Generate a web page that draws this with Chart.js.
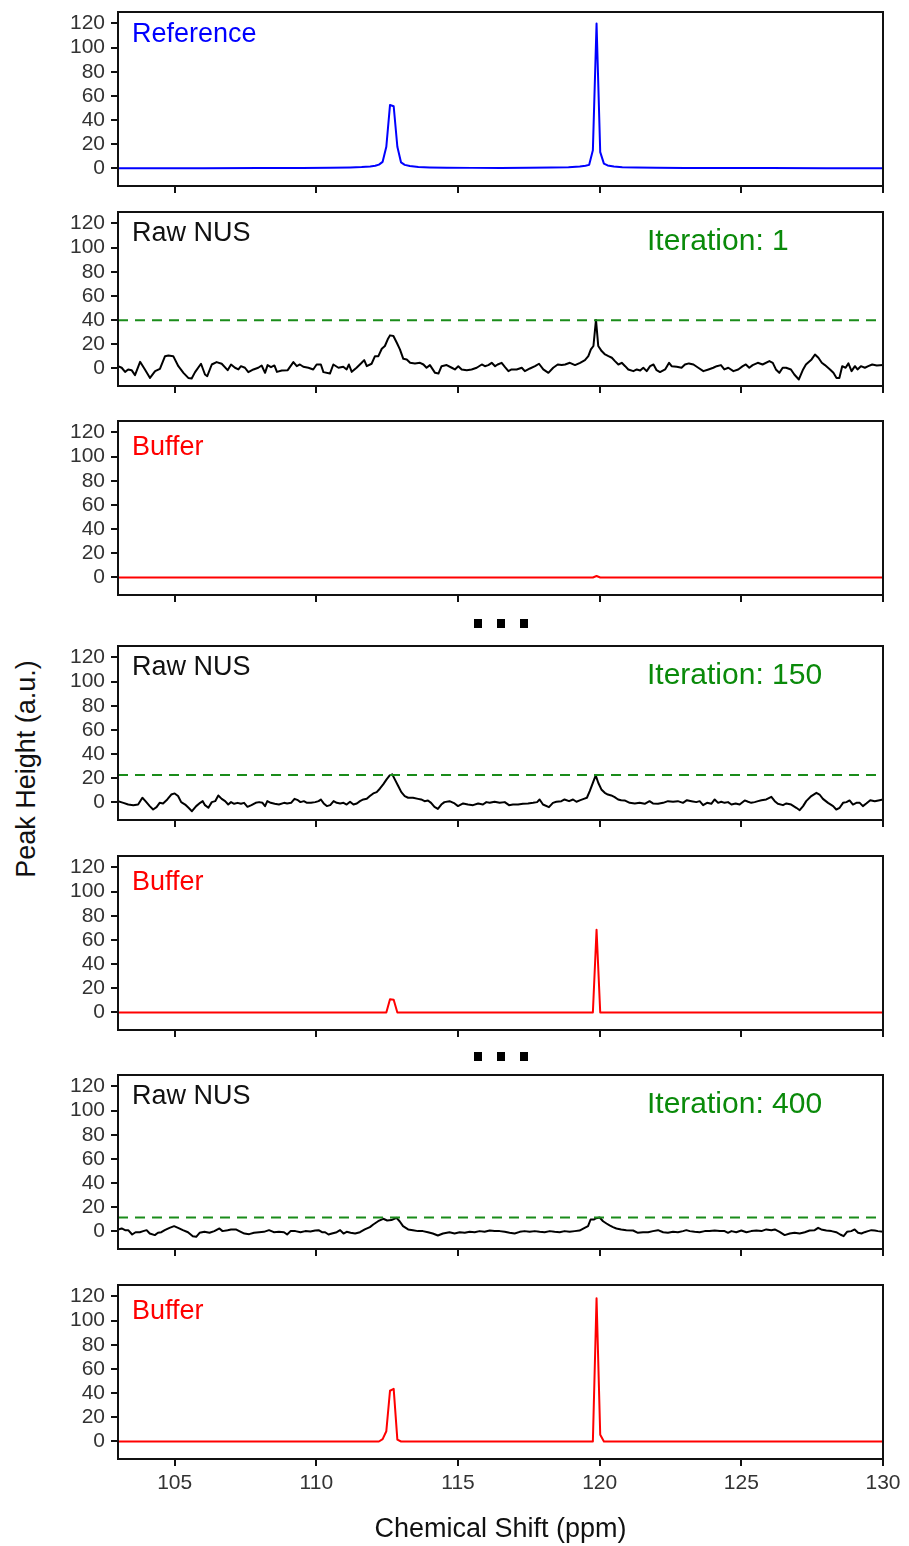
<!DOCTYPE html>
<html><head><meta charset="utf-8">
<script src="https://cdn.jsdelivr.net/npm/chart.js@4.4.0/dist/chart.umd.min.js"></script>
<style>
html,body{margin:0;padding:0;background:#fff}
body{width:909px;height:1546px;position:relative;overflow:hidden;font-family:"Liberation Sans",Arial,sans-serif}
.pane{position:absolute;left:0}
.dot{position:absolute;width:8px;height:9px;background:#000}
#ytitle{position:absolute;left:26px;top:769px;transform:translate(-50%,-50%) rotate(-90deg);font-size:27px;color:#111;white-space:nowrap}
</style></head>
<body>
<div id="ytitle">Peak Height (a.u.)</div>
<script>
// ---------- DATA ----------
const xRange = [103, 130];
const yRange = [-14.5, 129.5];
const xTicks = [105, 110, 115, 120, 125, 130];
const yTicks = [0, 20, 40, 60, 80, 100, 120];
const xTitle = 'Chemical Shift (ppm)';
const seriesNames = ['Reference', 'Raw NUS', 'Buffer'];
const iterationLabels = ['Iteration: 1', 'Iteration: 150', 'Iteration: 400'];
const thresholds = [40, 22.7, 11.6];

// [ppm, height]
const reference = [[103,0.1],[106,0.2],[108,0.3],[109.5,0.4],[110.5,0.6],[111.2,0.9],[111.6,1.2],[111.9,1.7],[112.08,2.2],[112.21,3.2],[112.34,5.5],[112.47,18],[112.6,52.5],[112.73,51.5],[112.86,18],[112.99,5],[113.12,3],[113.3,2],[113.6,1.3],[114.0,0.9],[114.6,0.6],[115.5,0.5],[116.5,0.5],[117.5,0.6],[118.3,0.8],[118.9,1.1],[119.3,1.6],[119.5,2.2],[119.63,3],[119.76,15],[119.89,120],[120.02,13.5],[120.15,4],[120.28,2.5],[120.5,1.6],[120.8,1.1],[121.3,0.8],[122,0.6],[123,0.4],[124.5,0.3],[126,0.3],[128,0.2],[130,0.2]];

const rawNus1 = [[103.0,1.9],[103.13,0.6],[103.25,-2.8],[103.36,-0.8],[103.48,-1.4],[103.6,-5.5],[103.78,5.5],[103.95,-0.8],[104.13,-7.8],[104.31,-2.2],[104.48,-0.3],[104.66,10.2],[104.78,10.8],[104.95,10.2],[105.13,1.9],[105.31,-3.6],[105.48,-7.8],[105.6,-8.3],[105.72,-3.0],[105.93,3.9],[106.07,-5.0],[106.15,-6.4],[106.31,3.3],[106.48,5.3],[106.66,3.9],[106.87,-1.4],[106.99,3.3],[107.13,0.6],[107.25,-0.8],[107.34,1.9],[107.48,0.6],[107.6,-3.0],[107.78,-0.8],[107.95,0.6],[108.07,2.5],[108.19,-3.6],[108.28,2.8],[108.4,1.1],[108.52,2.5],[108.61,-2.8],[108.78,-1.7],[108.99,-1.4],[109.19,5.3],[109.31,1.9],[109.42,3.3],[109.54,1.4],[109.72,0.6],[109.89,-0.8],[110.01,3.3],[110.16,3.3],[110.25,-3.0],[110.48,-4.2],[110.6,3.3],[110.78,0.6],[110.95,1.4],[111.07,-0.8],[111.15,3.3],[111.25,-2.8],[111.42,0.6],[111.6,4.7],[111.69,6.9],[111.78,1.9],[111.95,3.9],[112.07,10.2],[112.19,10.2],[112.31,16.3],[112.42,18.6],[112.52,24.1],[112.6,27.4],[112.72,26.9],[112.84,21.3],[112.95,15.8],[113.07,8.0],[113.19,7.5],[113.31,4.7],[113.48,4.2],[113.66,4.7],[113.78,3.3],[113.89,0.6],[114.01,2.8],[114.19,-3.6],[114.31,-4.2],[114.42,1.9],[114.6,2.8],[114.78,0.6],
[114.89,-0.8],[115.01,1.9],[115.13,-0.8],[115.31,-1.4],[115.48,-0.8],[115.66,0.6],[115.84,3.3],[115.95,1.9],[116.07,2.8],[116.19,4.7],[116.31,1.9],[116.4,3.3],[116.54,4.7],[116.66,1.1],[116.78,-2.2],[116.89,-0.8],[117.07,-0.8],[117.25,0.6],[117.36,-2.2],[117.54,0.0],[117.72,1.9],[117.86,3.9],[118.01,-0.8],[118.19,-3.6],[118.36,0.6],[118.52,3.3],[118.66,2.8],[118.78,3.3],[118.95,4.7],[119.13,2.8],[119.31,4.7],[119.48,6.9],[119.6,10.2],[119.69,15.8],[119.78,18.6],[119.87,40.2],[119.95,18.6],[120.07,14.4],[120.19,11.6],[120.31,10.2],[120.43,8.9],[120.54,6.1],[120.66,3.3],[120.78,4.7],[120.9,1.9],[121.01,-0.8],[121.19,-2.2],[121.31,-0.8],[121.43,-1.7],[121.54,0.6],[121.66,-2.2],[121.78,1.9],[121.9,3.3],[122.01,-1.4],[122.13,-3.0],[122.31,-0.8],[122.45,4.7],[122.54,1.9],[122.72,1.4],[122.89,0.6],[123.01,3.3],[123.15,4.2],[123.31,3.3],[123.48,0.6],[123.66,-2.2],[123.84,-0.8],[124.01,0.6],[124.13,1.9],[124.28,2.8],[124.4,-0.8],[124.54,0.6],[124.72,-2.2],[124.89,-0.8],[125.05,1.9],[125.16,3.3],[125.28,0.6],[125.4,2.8],[125.58,4.7],[125.75,3.3],[125.99,6.1],[126.11,4.7],[126.22,-0.8],[126.34,-3.6],[126.46,0.6],[126.58,0.6],[126.75,-0.8],[126.87,-5.0],[127.03,-9.1],[127.18,-0.8],[127.28,3.3],[127.48,7.5],[127.6,11.6],[127.72,8.9],[127.84,4.7],[127.95,2.8],[128.13,-0.8],[128.25,-3.6],[128.36,-7.8],[128.46,-7.8],[128.56,1.9],[128.68,0.6],[128.78,4.2],[128.89,-2.2],[129.01,1.9],[129.1,-0.8],[129.22,1.9],[129.36,0.6],[129.48,1.9],[129.62,3.3],[129.78,2.5],[130.0,2.8]];

const buffer1 = [[103,0],[119.76,0],[119.89,1.2],[120.02,0],[130,0]];

const rawNus150 = [[103.0,1.1],[103.19,-0.3],[103.36,-1.7],[103.54,-2.2],[103.71,-1.7],[103.86,3.9],[103.97,1.1],[104.12,-3.0],[104.24,-5.8],[104.36,-3.9],[104.47,-0.3],[104.59,-0.8],[104.74,2.5],[104.88,6.6],[105.0,7.5],[105.12,5.3],[105.23,0.3],[105.37,-1.7],[105.49,-4.4],[105.61,-7.2],[105.76,-3.0],[105.9,-0.3],[105.99,1.1],[106.07,-2.2],[106.19,-4.4],[106.31,0.3],[106.43,1.1],[106.54,5.8],[106.66,3.0],[106.78,1.1],[106.89,-1.7],[106.99,0.3],[107.1,-1.1],[107.22,-0.3],[107.34,-1.1],[107.45,-0.3],[107.57,-3.6],[107.71,-2.2],[107.86,-0.3],[107.98,0.3],[108.1,-0.3],[108.19,-3.0],[108.27,1.1],[108.39,-0.3],[108.53,-1.1],[108.68,-1.7],[108.86,-0.3],[108.97,-0.8],[109.11,-0.3],[109.23,3.0],[109.35,1.9],[109.44,0.3],[109.56,1.1],[109.67,-0.3],[109.81,-0.3],[109.96,0.3],[110.08,1.1],[110.16,2.5],[110.26,-0.8],[110.37,-3.0],[110.49,-2.2],[110.61,1.1],[110.72,-0.3],[110.84,-0.8],[110.96,-0.3],[111.07,-1.7],[111.19,0.6],[111.31,-1.7],[111.43,-0.8],[111.54,1.1],[111.66,2.5],[111.78,3.0],[111.89,5.3],[112.01,7.5],[112.13,8.6],[112.24,11.4],[112.36,15.0],[112.48,19.1],[112.59,22.4],[112.68,23.3],[112.77,19.1],[112.89,13.6],[113.0,8.6],[113.12,5.3],[113.24,3.9],[113.41,3.9],[113.59,3.0],[113.7,2.5],[113.82,1.1],[113.94,1.7],[114.05,-0.3],[114.17,-3.6],[114.29,-5.3],[114.41,-1.7],[114.52,0.3],[114.7,1.1],
[114.88,-0.8],[115.0,-3.0],[115.18,-0.8],[115.35,-1.7],[115.53,-2.2],[115.71,-0.8],[115.88,-1.7],[116.0,0.3],[116.12,-0.3],[116.29,0.6],[116.47,-0.3],[116.65,0.3],[116.8,-2.2],[116.94,-1.7],[117.12,-1.7],[117.29,-1.1],[117.47,-0.8],[117.65,-0.3],[117.79,0.3],[117.88,2.5],[118.0,-1.7],[118.21,-3.9],[118.35,-0.3],[118.47,0.6],[118.65,1.1],[118.76,2.5],[118.92,1.1],[119.06,2.5],[119.18,0.6],[119.32,1.9],[119.44,3.0],[119.55,3.9],[119.65,9.4],[119.76,16.3],[119.86,22.4],[119.95,16.3],[120.06,10.8],[120.18,8.0],[120.29,6.6],[120.41,5.8],[120.53,4.4],[120.65,2.5],[120.76,1.9],[120.88,1.7],[121.06,-0.3],[121.24,-0.8],[121.41,-0.3],[121.59,-1.1],[121.76,1.1],[121.88,-0.8],[122.06,-1.1],[122.24,-0.3],[122.41,1.1],[122.59,0.6],[122.76,1.1],[122.94,-0.3],[123.08,1.9],[123.24,1.1],[123.41,0.3],[123.53,1.1],[123.65,-2.2],[123.79,-0.3],[123.94,-1.1],[124.06,2.5],[124.18,-0.3],[124.29,0.6],[124.41,-0.3],[124.53,0.3],[124.65,-1.7],[124.8,-0.8],[124.94,-1.7],[125.12,1.7],[125.24,0.6],[125.35,-0.3],[125.47,0.3],[125.59,1.1],[125.71,1.9],[125.88,2.5],[126.06,4.7],[126.18,1.1],[126.29,-1.1],[126.47,-2.2],[126.59,-0.8],[126.76,-1.7],[126.94,-4.4],[127.06,-6.4],[127.18,-3.0],[127.29,1.1],[127.47,5.3],[127.65,8.0],[127.76,6.6],[127.88,3.0],[128.06,-0.3],[128.24,-3.0],[128.35,-5.8],[128.47,-4.4],[128.59,-0.3],[128.71,0.3],[128.82,1.7],[128.94,-1.7],[129.06,-0.3],[129.18,-0.3],[129.29,-3.0],[129.41,-0.8],[129.55,1.9],[129.71,1.1],[129.88,1.9],[130.0,2.5]];

const buffer150 = [[103,0],[112.47,0],[112.6,11],[112.73,10.5],[112.86,0],[119.76,0],[119.89,68.5],[120.02,0],[130,0]];

const rawNus400 = [[103.0,1.7],[103.13,2.5],[103.25,1.1],[103.36,1.1],[103.5,-2.5],[103.62,-0.6],[103.77,-0.6],[103.89,0.3],[104.01,1.1],[104.12,-1.7],[104.3,-3.0],[104.41,-1.1],[104.53,-0.6],[104.65,1.1],[104.82,3.0],[104.98,4.4],[105.12,3.0],[105.29,1.1],[105.47,-0.6],[105.64,-3.9],[105.76,-4.4],[105.88,-1.1],[106.05,-0.3],[106.23,-1.1],[106.4,0.3],[106.58,2.5],[106.69,0.3],[106.87,1.1],[106.99,1.7],[107.16,1.7],[107.28,0.3],[107.46,-1.7],[107.63,-2.2],[107.8,-1.1],[107.98,-0.6],[108.15,-0.3],[108.33,1.1],[108.5,-0.6],[108.68,-0.3],[108.86,-0.6],[108.97,-2.5],[109.09,0.3],[109.26,0.3],[109.44,-0.6],[109.61,0.3],[109.79,0.0],[109.96,0.8],[110.08,1.1],[110.2,-0.6],[110.31,-0.6],[110.43,-2.5],[110.55,-1.7],[110.72,-0.6],[110.84,1.1],[110.96,-1.7],[111.07,-0.3],[111.21,-1.1],[111.37,-1.7],[111.54,-0.6],[111.71,1.7],[111.89,3.6],[112.01,5.8],[112.18,8.5],[112.36,10.5],[112.5,9.1],[112.65,9.4],[112.83,11.3],[112.94,8.5],[113.06,4.4],[113.24,1.7],[113.41,1.1],[113.59,0.3],[113.76,0.3],[113.94,-0.6],[114.11,-1.7],[114.29,-3.3],[114.47,-1.7],[114.7,-0.6],
[114.88,-1.7],[115.06,-0.6],[115.24,-1.1],[115.41,-0.3],[115.59,-0.6],[115.76,0.3],[115.94,-0.3],[116.12,0.8],[116.29,0.3],[116.47,0.3],[116.65,-0.3],[116.82,-1.1],[117.0,-1.7],[117.18,-0.3],[117.35,0.3],[117.53,-0.3],[117.71,0.3],[117.88,-0.3],[118.06,-0.6],[118.24,0.3],[118.41,-0.3],[118.59,-0.6],[118.76,0.3],[118.94,-0.3],[119.12,0.3],[119.29,0.8],[119.47,3.0],[119.59,4.4],[119.68,9.9],[119.79,9.9],[119.88,11.0],[120.0,11.6],[120.12,8.5],[120.24,6.6],[120.35,5.0],[120.47,3.6],[120.59,2.5],[120.76,1.7],[120.94,1.1],[121.18,0.8],[121.35,-1.1],[121.53,-0.6],[121.71,-0.6],[121.88,0.3],[122.06,1.1],[122.24,-0.6],[122.41,-1.1],[122.59,-0.3],[122.76,-0.6],[122.94,0.3],[123.06,1.1],[123.18,0.3],[123.35,-0.3],[123.53,-0.6],[123.71,0.3],[123.88,0.3],[124.06,0.8],[124.24,0.3],[124.41,0.3],[124.53,-1.1],[124.65,0.3],[124.82,-0.6],[125.0,0.8],[125.18,-0.6],[125.35,0.3],[125.53,0.8],[125.71,0.3],[125.88,1.7],[126.06,1.1],[126.18,1.7],[126.35,-0.3],[126.53,-3.0],[126.71,-1.7],[126.88,-1.1],[127.06,-1.7],[127.24,-0.6],[127.41,0.8],[127.59,1.1],[127.71,3.0],[127.82,1.7],[128.0,0.8],[128.18,0.3],[128.35,-0.6],[128.49,-2.5],[128.61,-3.9],[128.73,-0.3],[128.88,0.3],[129.0,1.7],[129.12,-1.1],[129.24,-1.7],[129.35,-0.6],[129.47,0.3],[129.59,1.1],[129.71,0.8],[129.82,0.3],[130.0,-0.3]];

const buffer400 = [[103,0],[112.21,0],[112.34,2],[112.47,8.5],[112.6,42],[112.73,43.5],[112.86,1.5],[112.99,0],[119.76,0],[119.89,118.5],[120.02,5.5],[120.15,0],[130,0]];

// ---------- STYLE / LAYOUT ----------
const FONT = '"Liberation Sans", Arial, sans-serif';
const BLUE = '#0000ff', RED = '#ff0000', BLACK = '#000000', GREEN = '#1a8c1a', TEXTGREEN = '#0a8a0a';
const PADT = 6, PLOT_H = 174, LEFT = 118, RIGHT_PAD = 26;

const panels = [
  {top: 12,  line: reference, color: BLUE,  name: 0, nameColor: BLUE,  nameDy: 30},
  {top: 212, line: rawNus1,   color: BLACK, name: 1, nameColor: '#111', nameDy: 29, thr: 0, iter: 0},
  {top: 421, line: buffer1,   color: RED,   name: 2, nameColor: RED,   nameDy: 34},
  {top: 646, line: rawNus150, color: BLACK, name: 1, nameColor: '#111', nameDy: 29, thr: 1, iter: 1},
  {top: 856, line: buffer150, color: RED,   name: 2, nameColor: RED,   nameDy: 34},
  {top: 1075,line: rawNus400, color: BLACK, name: 1, nameColor: '#111', nameDy: 29, thr: 2, iter: 2},
  {top: 1285,line: buffer400, color: RED,   name: 2, nameColor: RED,   nameDy: 34, last: true}
];

const decoPlugin = {
  id: 'deco',
  afterDatasetsDraw(chart, args, opts) {
    const {ctx, chartArea: a} = chart;
    ctx.save();
    ctx.strokeStyle = '#111';
    ctx.lineWidth = 2;
    ctx.strokeRect(a.left, a.top, a.right - a.left, a.bottom - a.top);
    (opts.labels || []).forEach(l => {
      ctx.font = l.size + 'px ' + FONT;
      ctx.fillStyle = l.color;
      ctx.textAlign = 'left';
      ctx.textBaseline = 'alphabetic';
      ctx.fillText(l.text, a.left + l.dx, a.top + l.dy);
    });
    ctx.restore();
  }
};

panels.forEach(p => {
  const H = p.last ? (1546 - (p.top - PADT)) : (PADT + PLOT_H + 12);
  const xH = H - PADT - PLOT_H;
  const div = document.createElement('div');
  div.className = 'pane';
  div.style.top = (p.top - PADT) + 'px';
  div.style.width = '909px';
  div.style.height = H + 'px';
  const cv = document.createElement('canvas');
  cv.width = 909; cv.height = H;
  cv.style.width = '909px'; cv.style.height = H + 'px';
  div.appendChild(cv);
  document.body.appendChild(div);

  const datasets = [];
  if (p.thr !== undefined) {
    const t = thresholds[p.thr];
    datasets.push({data: [{x: xRange[0], y: t}, {x: xRange[1], y: t}], borderColor: GREEN, borderWidth: 2, borderDash: [10, 7], pointRadius: 0, tension: 0});
  }
  datasets.push({data: p.line.map(d => ({x: d[0], y: d[1]})), borderColor: p.color, borderWidth: 2, borderJoinStyle: 'round', pointRadius: 0, tension: 0});

  const labels = [{text: seriesNames[p.name], color: p.nameColor, size: 27, dx: 14, dy: p.nameDy}];
  if (p.iter !== undefined) labels.push({text: iterationLabels[p.iter], color: TEXTGREEN, size: 30, dx: 529, dy: 38});

  new Chart(cv, {
    type: 'line',
    data: {datasets},
    plugins: [decoPlugin],
    options: {
      responsive: false, animation: false, devicePixelRatio: 1,
      layout: {padding: {top: PADT, right: RIGHT_PAD, bottom: 0, left: 0}},
      plugins: {legend: {display: false}, tooltip: {enabled: false}, deco: {labels}},
      scales: {
        x: {
          type: 'linear', min: xRange[0], max: xRange[1],
          afterBuildTicks: s => { s.ticks = xTicks.map(v => ({value: v})); },
          afterFit: s => { s.height = xH; s.paddingLeft = 0; s.paddingRight = 0; },
          grid: {display: true, drawOnChartArea: false, drawTicks: true, tickLength: 7, color: '#111', lineWidth: 2},
          border: {display: false},
          ticks: {display: !!p.last, color: '#333', font: {family: FONT, size: 21}, padding: 5, maxRotation: 0, autoSkip: false},
          title: {display: !!p.last, text: xTitle, color: '#111', font: {family: FONT, size: 27}, padding: {top: 0, bottom: 0}}
        },
        y: {
          type: 'linear', min: yRange[0], max: yRange[1],
          afterBuildTicks: s => { s.ticks = yTicks.map(v => ({value: v})); },
          afterFit: s => { s.width = LEFT; s.paddingTop = 0; s.paddingBottom = 0; },
          grid: {display: true, drawOnChartArea: false, drawTicks: true, tickLength: 7, color: '#111', lineWidth: 2},
          border: {display: false},
          ticks: {color: '#333', font: {family: FONT, size: 21}, padding: 6, autoSkip: false}
        }
      }
    }
  });
});

// "..." separators between iteration groups
[[619, 474], [619, 497], [619, 520], [1052, 474], [1052, 497], [1052, 520]].forEach(([t, l]) => {
  const d = document.createElement('div');
  d.className = 'dot';
  d.style.top = t + 'px'; d.style.left = l + 'px';
  document.body.appendChild(d);
});
</script>
</body></html>
